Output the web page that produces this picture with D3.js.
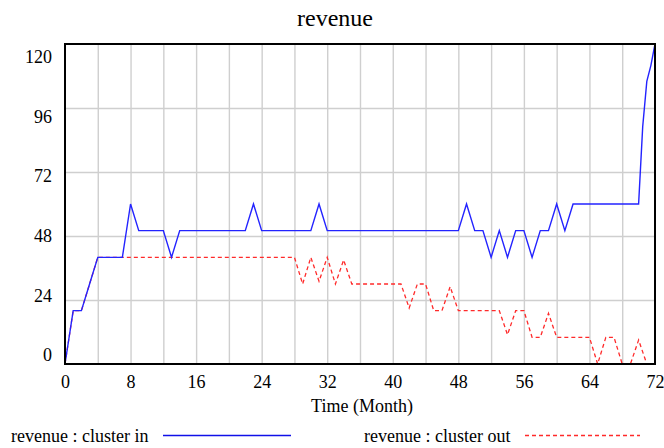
<!DOCTYPE html>
<html><head><meta charset="utf-8">
<script src="https://cdn.jsdelivr.net/npm/d3@7"></script>
<style>
body{margin:0;background:#fff}
svg{display:block}
text{font-family:"Liberation Serif","Times New Roman",serif;fill:#000}
</style></head>
<body><svg id="c" width="664" height="448"></svg>
<script>
// ---- data ----
const title = "revenue";
const xLabel = "Time (Month)";
const seriesNames = ["revenue : cluster in", "revenue : cluster out"];
const xTickLabels = [0, 8, 16, 24, 32, 40, 48, 56, 64, 72];
const yTickLabels = [0, 24, 48, 72, 96, 120];
const xGridValues = [4, 8, 12, 16, 20, 24, 28, 32, 36, 40, 44, 48, 52, 56, 60, 64, 68];
const yGridValues = [24, 48, 72, 96];

const inMonths = [0,1,2,3,4,5,6,7,8,9,10,11,12,13,14,15,16,17,18,19,20,21,22,23,24,25,26,27,28,29,30,
  31,32,33,34,35,36,37,38,39,40,41,42,43,44,45,46,47,48,49,50,51,52,53,54,55,56,57,58,59,60,
  61,62,63,64,65,66,67,68,69,70,70.5,71,71.5,72];
const inValues = [0,20,20,30,40,40,40,40,60,50,50,50,50,40,50,50,50,50,50,50,50,50,50,60,50,50,50,50,50,50,50,
  60,50,50,50,50,50,50,50,50,50,50,50,50,50,50,50,50,50,60,50,50,40,50,40,50,50,40,50,50,60,
  50,60,60,60,60,60,60,60,60,60,89,106,112,120];

const outMonths = [0,1,2,3,4,5,6,7,8,9,10,11,12,13,14,15,16,17,18,19,20,21,22,23,24,25,26,27,28,29,30,
  31,32,33,34,35,36,37,38,39,40,41,42,43,44,45,46,47,48,49,50,51,52,53,54,55,56,57,58,59,60,
  61,62,63,64,65,66,67,68,69,70,71,72];
const outValues = [0,20,20,30,40,40,40,40,40,40,40,40,40,40,40,40,40,40,40,40,40,40,40,40,40,40,40,40,40,30,40,
  31,40,30,39,30,30,30,30,30,30,30,21,30,30,20,20,29,20,20,20,20,20,20,11,20,20,10,10,19,10,
  10,10,10,10,0,10,10,0,0,9,0,0];

// ---- layout ----
const svg = d3.select("#c");
const L = 65, R = 655, T = 44, B = 364;
const x = d3.scaleLinear().domain([0, 72]).range([L, R]);
const y = d3.scaleLinear().domain([0, 120]).range([B, T]);
const yLab = d3.scaleLinear().domain([0, 120]).range([355, 57]);

// grid
const gx = svg.append("g").attr("transform", `translate(0,${B})`)
  .call(d3.axisBottom(x).tickValues(xGridValues).tickSize(-(B - T)).tickFormat(""));
gx.select(".domain").remove();
gx.selectAll("line").attr("stroke", "#cfcfcf").attr("stroke-width", 1.4);
const gy = svg.append("g").attr("transform", `translate(${L},0)`)
  .call(d3.axisLeft(y).tickValues(yGridValues).tickSize(-(R - L)).tickFormat(""));
gy.select(".domain").remove();
gy.selectAll("line").attr("stroke", "#cfcfcf").attr("stroke-width", 1.4);

// lines
const outData = outMonths.map((m, i) => [m, outValues[i]]);
const inData = inMonths.map((m, i) => [m, inValues[i]]);
const line = d3.line().x(d => x(d[0])).y(d => y(d[1]));
svg.append("path").datum(outData).attr("d", line).attr("fill", "none")
  .attr("stroke", "#ff2a2a").attr("stroke-width", 1.3).attr("stroke-dasharray", "4,3");
svg.append("path").datum(inData).attr("d", line).attr("fill", "none")
  .attr("stroke", "#2323ff").attr("stroke-width", 1.4);

// frame
svg.append("rect").attr("x", L).attr("y", T).attr("width", R - L).attr("height", B - T)
  .attr("fill", "none").attr("stroke", "#000").attr("stroke-width", 2);

// x tick labels
const ax = svg.append("g").attr("transform", `translate(0,${B})`)
  .call(d3.axisBottom(x).tickValues(xTickLabels).tickSize(0).tickPadding(11));
ax.select(".domain").remove();
ax.selectAll("text").attr("font-size", 18).style("font-family", '"Liberation Serif",serif');

// y tick labels
const ay = svg.append("g").attr("transform", `translate(52,0)`)
  .call(d3.axisLeft(yLab).tickValues(yTickLabels).tickSize(0).tickPadding(0));
ay.select(".domain").remove();
ay.selectAll("text").attr("font-size", 18).style("font-family", '"Liberation Serif",serif');

// title & axis label
svg.append("text").attr("x", 335).attr("y", 26).attr("text-anchor", "middle")
  .attr("font-size", 24).text(title);
svg.append("text").attr("x", 362).attr("y", 412).attr("text-anchor", "middle")
  .attr("font-size", 18).text(xLabel);

// legend
const lg = svg.append("g");
lg.append("text").attr("x", 11).attr("y", 442).attr("font-size", 18).text(seriesNames[0]);
lg.append("line").attr("x1", 163).attr("x2", 291).attr("y1", 435.5).attr("y2", 435.5)
  .attr("stroke", "#1010e8").attr("stroke-width", 1.4);
lg.append("text").attr("x", 364).attr("y", 442).attr("font-size", 18).text(seriesNames[1]);
lg.append("line").attr("x1", 525).attr("x2", 640).attr("y1", 435.5).attr("y2", 435.5)
  .attr("stroke", "#ff2a2a").attr("stroke-width", 1.3).attr("stroke-dasharray", "4,3");
</script></body></html>
